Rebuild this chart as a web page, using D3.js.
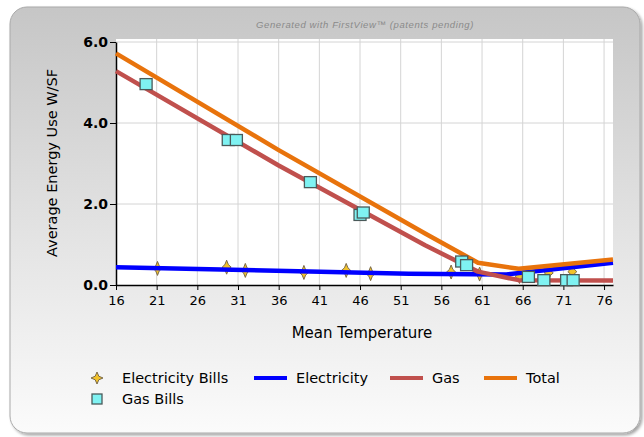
<!DOCTYPE html>
<html>
<head>
<meta charset="utf-8">
<script src="https://cdn.jsdelivr.net/npm/d3@7"></script>
<style>
  body { margin: 0; background: #fff; }
  svg { display: block; font-family: "DejaVu Sans", sans-serif; }
</style>
</head>
<body>
<div id="chart"></div>
<script>
// data
const xTicks = [16, 21, 26, 31, 36, 41, 46, 51, 56, 61, 66, 71, 76];
const yTicks = [0, 2, 4, 6];

const elecBillTemp = [21.1, 29.6, 31.9, 39.1, 44.3, 47.3, 57.2, 60.7, 65.6, 69.2, 72.1];
const elecBillUse  = [0.41, 0.44, 0.36, 0.31, 0.36, 0.28, 0.32, 0.27, 0.21, 0.30, 0.33];

const gasBillTemp = [19.7, 29.8, 30.8, 39.9, 46.0, 46.4, 58.5, 59.1, 66.7, 68.6, 71.4, 72.2];
const gasBillUse  = [4.96, 3.58, 3.58, 2.54, 1.73, 1.79, 0.58, 0.49, 0.20, 0.12, 0.12, 0.12];

const elecLineTemp = [16, 52, 64, 77.1];
const elecLineUse  = [0.44, 0.28, 0.26, 0.55];

const gasLineTemp = [16, 36, 54, 60.5, 65.5, 77.1];
const gasLineUse  = [5.28, 2.95, 0.98, 0.33, 0.12, 0.11];

const totalLineTemp = [16, 36, 54, 60.5, 65.5, 77.1];
const totalLineUse  = [5.72, 3.33, 1.27, 0.55, 0.40, 0.63];

const legendItems = [
  { label: "Electricity Bills", type: "star" },
  { label: "Electricity", type: "line", color: "#0000ff" },
  { label: "Gas", type: "line", color: "#c0504d" },
  { label: "Total", type: "line", color: "#e8730c" },
  { label: "Gas Bills", type: "square" }
];

const W = 644, H = 437;
const svg = d3.select("#chart").append("svg").attr("width", W).attr("height", H);

// panel with gradient
const defs = svg.append("defs");
const grad = defs.append("linearGradient").attr("id", "panelGrad")
  .attr("x1", 0).attr("y1", 0).attr("x2", 0).attr("y2", 1);
grad.append("stop").attr("offset", "0%").attr("stop-color", "#c6c6c6");
grad.append("stop").attr("offset", "55%").attr("stop-color", "#e4e4e4");
grad.append("stop").attr("offset", "100%").attr("stop-color", "#fbfbfb");

const shadow = defs.append("filter").attr("id", "shadow")
  .attr("x", "-5%").attr("y", "-5%").attr("width", "110%").attr("height", "110%");
shadow.append("feDropShadow").attr("dx", 2).attr("dy", 2).attr("stdDeviation", 1.5)
  .attr("flood-color", "#000").attr("flood-opacity", 0.35);

svg.append("rect")
  .attr("x", 10).attr("y", 7).attr("width", 630).attr("height", 426)
  .attr("rx", 17).attr("ry", 17)
  .attr("fill", "url(#panelGrad)")
  .attr("stroke", "#a9a9a9").attr("stroke-width", 1)
  .attr("filter", "url(#shadow)");

svg.append("text")
  .attr("x", 365).attr("y", 28)
  .attr("text-anchor", "middle")
  .attr("font-size", 9.5).attr("font-style", "italic")
  .attr("font-family", "Liberation Sans, Arial, sans-serif")
  .attr("letter-spacing", 0.6)
  .attr("fill", "#8a8a8a")
  .text("Generated with  FirstView\u2122  (patents  pending)");

const margin = { left: 116, top: 42, right: 613, bottom: 285 };

const x = d3.scaleLinear().domain([16, 77.1]).range([margin.left, margin.right]);
const y = d3.scaleLinear().domain([0, 6]).range([margin.bottom, margin.top]);

// plot background
svg.append("rect")
  .attr("x", margin.left).attr("y", margin.top - 3)
  .attr("width", margin.right - margin.left).attr("height", margin.bottom - margin.top + 3)
  .attr("fill", "#fff");

// grid
svg.append("g").selectAll("line").data(xTicks.slice(1)).join("line")
  .attr("x1", d => x(d)).attr("x2", d => x(d))
  .attr("y1", margin.top - 3).attr("y2", margin.bottom)
  .attr("stroke", "#d4d4d4").attr("stroke-width", 1);
svg.append("g").selectAll("line").data(yTicks.slice(1)).join("line")
  .attr("x1", margin.left).attr("x2", margin.right)
  .attr("y1", d => y(d)).attr("y2", d => y(d))
  .attr("stroke", "#d4d4d4").attr("stroke-width", 1);

// axes
const xAxis = svg.append("g")
  .attr("transform", `translate(0,${margin.bottom})`)
  .call(d3.axisBottom(x).tickValues(xTicks).tickFormat(d3.format("d")).tickSize(5).tickSizeOuter(0));
xAxis.select(".domain").attr("stroke", "#000").attr("stroke-width", 1.5);
xAxis.selectAll("text").attr("font-size", 13).attr("fill", "#000").attr("dy", "0.95em")
  .attr("font-family", "DejaVu Sans, sans-serif");

const yAxis = svg.append("g")
  .attr("transform", `translate(${margin.left},0)`)
  .call(d3.axisLeft(y).tickValues(yTicks).tickFormat(d3.format(".1f")).tickSize(6).tickSizeOuter(0));
yAxis.select(".domain").attr("stroke", "#000").attr("stroke-width", 1.5);
yAxis.selectAll("text").attr("font-size", 14).attr("font-weight", "bold").attr("fill", "#000")
  .attr("font-family", "DejaVu Sans, sans-serif").attr("x", -8);

svg.append("text")
  .attr("x", 362).attr("y", 338)
  .attr("text-anchor", "middle").attr("font-size", 15).attr("fill", "#000")
  .text("Mean Temperature");

svg.append("text")
  .attr("transform", "translate(57,163) rotate(-90)")
  .attr("text-anchor", "middle").attr("font-size", 14.5).attr("fill", "#000")
  .text("Average Energy Use W/SF");

// four point sparkle marker, k sets how pinched the sides are
function sparkle(w, h, k) {
  const a = w * k, b = h * k;
  return `M0,${-h}L${a},${-b}L${w},0L${a},${b}L0,${h}L${-a},${b}L${-w},0L${-a},${-b}Z`;
}

const line = d3.line().x(d => x(d[0])).y(d => y(d[1]));
const plotG = svg.append("g");
const series = [
  { t: elecLineTemp, u: elecLineUse, color: "#0000ff" },
  { t: totalLineTemp, u: totalLineUse, color: "#e8730c" },
  { t: gasLineTemp, u: gasLineUse, color: "#c0504d" }
];

plotG.selectAll(".eb").data(d3.zip(elecBillTemp, elecBillUse)).join("path")
  .attr("transform", d => `translate(${x(d[0])},${y(d[1])})`)
  .attr("d", sparkle(4.5, 7, 0.38))
  .attr("fill", "#f2c22a").attr("stroke", "#7a6a4a").attr("stroke-width", 1);

series.forEach(s => {
  plotG.append("path")
    .datum(d3.zip(s.t, s.u))
    .attr("d", line)
    .attr("fill", "none")
    .attr("stroke", s.color)
    .attr("stroke-width", 4.5)
    .attr("stroke-linejoin", "round");
});

plotG.selectAll(".gb").data(d3.zip(gasBillTemp, gasBillUse)).join("rect")
  .attr("x", d => x(d[0]) - 6).attr("y", d => y(d[1]) - 5.5)
  .attr("width", 12).attr("height", 11)
  .attr("fill", "#7ff2f2").attr("stroke", "#4a5a5a").attr("stroke-width", 1.3);

// legend
const legendPos = [
  { x: 97, y: 378, tx: 122 },
  { x: 254, y: 378, tx: 296 },
  { x: 390, y: 378, tx: 432 },
  { x: 484, y: 378, tx: 526 },
  { x: 97, y: 399, tx: 122 }
];
const legend = svg.append("g");
legendItems.forEach((item, i) => {
  const p = legendPos[i];
  if (item.type === "star") {
    legend.append("path").attr("d", sparkle(6, 6, 0.3))
      .attr("transform", `translate(${p.x},${p.y})`)
      .attr("fill", "#f2c22a").attr("stroke", "#7a6a4a").attr("stroke-width", 1);
  } else if (item.type === "square") {
    legend.append("rect").attr("x", p.x - 5).attr("y", p.y - 5).attr("width", 10).attr("height", 10)
      .attr("fill", "#7ff2f2").attr("stroke", "#4a5a5a").attr("stroke-width", 1.3);
  } else {
    legend.append("line").attr("x1", p.x).attr("x2", p.x + 33).attr("y1", p.y).attr("y2", p.y)
      .attr("stroke", item.color).attr("stroke-width", 4);
  }
  legend.append("text").attr("x", p.tx).attr("y", p.y).attr("dy", "0.35em")
    .attr("font-size", 14.5).attr("fill", "#000").text(item.label);
});
</script>
</body>
</html>
